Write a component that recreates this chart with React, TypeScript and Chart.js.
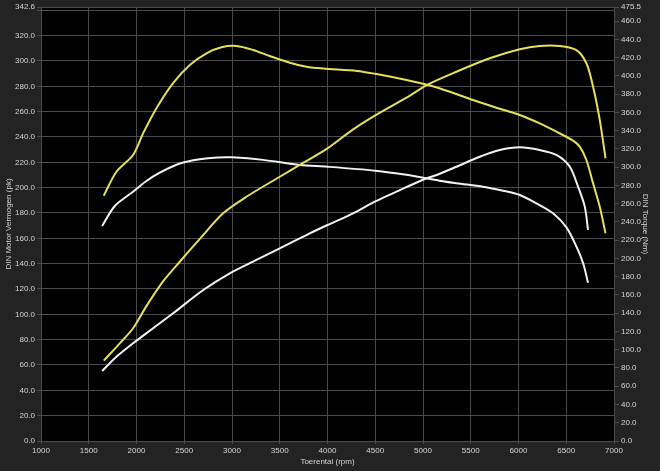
import React, { useEffect, useRef } from "react";
import { Chart, registerables } from "chart.js";

Chart.register(...registerables);

// Yellow (tuned) torque curve, Nm (right axis)
const rpmTorqueTuned = [1657, 1790, 1964, 2069, 2209, 2383, 2558, 2733, 2890, 3047, 3221, 3396, 3605, 3780, 3954, 4310, 4513, 4827, 5053, 5280, 5524, 5769, 6013, 6222, 6397, 6571, 6641, 6711, 6781, 6851, 6911];
const torqueTuned = [268.8, 295, 313.4, 337, 364.5, 392, 412, 424.8, 431.4, 432.8, 428.4, 421.8, 414.5, 410, 408, 405.5, 402, 395.5, 390, 382.7, 373.6, 365.2, 357.2, 348, 338.9, 329, 322.5, 307.9, 282.3, 256.7, 227.6];

// Yellow (tuned) power curve, pk (left axis)
const rpmPowerTuned = [1657, 1825, 1964, 2104, 2278, 2453, 2663, 2907, 3151, 3500, 3709, 4000, 4250, 4478, 4827, 5053, 5350, 5699, 6013, 6222, 6432, 6606, 6711, 6781, 6851, 6911];
const powerTuned = [63.4, 77.1, 89, 106.5, 126, 141.5, 159.5, 179.7, 192.8, 208.6, 217.9, 231, 245, 256, 271, 281.5, 291.5, 302.1, 309.2, 311.8, 311.8, 308.6, 298.2, 279.7, 253.4, 223.2];

// White (stock) torque curve, Nm (right axis)
const rpmTorqueStock = [1640, 1773, 1964, 2104, 2244, 2453, 2663, 2850, 3000, 3326, 3709, 4000, 4500, 4827, 5000, 5176, 5350, 5629, 5839, 6013, 6188, 6362, 6502, 6607, 6677, 6728];
const torqueStock = [235.6, 257.5, 273.1, 284.9, 294, 304, 308.6, 310.6, 310.8, 308, 302.4, 300.5, 296.2, 291.8, 288.5, 285.2, 282.4, 278.6, 274.2, 269.5, 260.4, 249.5, 234, 212.9, 194.7, 173.4];

// White (stock) power curve, pk (left axis)
const rpmPowerStock = [1640, 1790, 1964, 2174, 2383, 2699, 2977, 3256, 3500, 3779, 4000, 4268, 4495, 4722, 4994, 5176, 5350, 5594, 5804, 6013, 6222, 6397, 6537, 6624, 6694, 6728];
const powerStock = [55.3, 66.5, 77.1, 89, 100.8, 119.2, 132.4, 142.9, 152.1, 162.6, 170.5, 179.7, 188.9, 196.8, 206, 211, 216.5, 224.4, 229.7, 231.8, 229.7, 225.8, 216.5, 200.7, 185, 166.6];

const powerTicks = [0, 20, 40, 60, 80, 100, 120, 140, 160, 180, 200, 220, 240, 260, 280, 300, 320, 340, 342.6];
const torqueTicks = [0, 20, 40, 60, 80, 100, 120, 140, 160, 180, 200, 220, 240, 260, 280, 300, 320, 340, 360, 380, 400, 420, 440, 460, 475.5];
const powerMax = 342.6;
const torqueMax = 475.5;
const rpmMin = 1000;
const rpmMax = 7000;

const xTitle = "Toerental (rpm)";
const yTitle = "DIN Motor Vermogen (pk)";
const y1Title = "DIN Torque (Nm)";

const YELLOW = "#e6e05a";
const WHITE = "#f2f2f2";
const GRID = "#4c4c4c";
const TEXT = "#d6d6d6";
const FONT = { family: "'Liberation Sans', Arial, sans-serif", size: 8 };

const toPoints = (xs: number[], ys: number[]) => xs.map((x, i) => ({ x, y: ys[i] }));

const bgPlugin = {
  id: "bgPlugin",
  beforeDraw(chart: any) {
    const { ctx, chartArea, width, height } = chart;
    ctx.save();
    ctx.fillStyle = "#232323";
    ctx.fillRect(0, 0, width, height);
    ctx.fillStyle = "#000000";
    ctx.fillRect(chartArea.left, chartArea.top, chartArea.right - chartArea.left, chartArea.bottom - chartArea.top);
    ctx.restore();
  },
};

export default function App() {
  const ref = useRef<HTMLCanvasElement | null>(null);

  useEffect(() => {
    if (!ref.current) return;
    const lineDs = (label: string, pts: any[], color: string, axis: string) => ({
      label,
      data: pts,
      borderColor: color,
      backgroundColor: color,
      borderWidth: 2,
      pointRadius: 0,
      tension: 0.3,
      fill: false,
      yAxisID: axis,
    });
    const chart = new Chart(ref.current, {
      type: "line",
      data: {
        datasets: [
          lineDs("Torque tuned", toPoints(rpmTorqueTuned, torqueTuned), YELLOW, "y1"),
          lineDs("Power tuned", toPoints(rpmPowerTuned, powerTuned), YELLOW, "y"),
          lineDs("Torque stock", toPoints(rpmTorqueStock, torqueStock), WHITE, "y1"),
          lineDs("Power stock", toPoints(rpmPowerStock, powerStock), WHITE, "y"),
        ],
      },
      options: {
        animation: false,
        responsive: true,
        maintainAspectRatio: false,
        layout: { padding: { top: 7, left: 0, right: 0, bottom: 0 } },
        plugins: { legend: { display: false }, tooltip: { enabled: false } },
        scales: {
          x: {
            type: "linear",
            min: rpmMin,
            max: rpmMax,
            ticks: { stepSize: 500, color: TEXT, font: FONT, padding: 2, maxRotation: 0, autoSkip: false, callback: (v: any) => String(v) },
            grid: { color: GRID, tickLength: 3, tickColor: GRID },
            border: { display: false },
            title: { display: true, text: xTitle, color: TEXT, font: FONT, padding: { top: 0, bottom: 4 } },
            afterFit: (s: any) => { s.height = 30; },
          },
          y: {
            type: "linear",
            position: "left",
            min: 0,
            max: powerMax,
            afterBuildTicks: (s: any) => { s.ticks = powerTicks.map((value) => ({ value })); },
            ticks: {
              color: TEXT, font: FONT, padding: 2, autoSkip: false,
              callback: (v: any) => (v === 340 ? "" : Number(v).toFixed(1)),
            },
            grid: { color: GRID, tickLength: 4, tickColor: GRID },
            border: { display: false },
            title: { display: true, text: yTitle, color: TEXT, font: FONT, padding: { top: 4, bottom: 0 } },
            afterFit: (s: any) => { s.width = 41; },
          },
          y1: {
            type: "linear",
            position: "right",
            min: 0,
            max: torqueMax,
            afterBuildTicks: (s: any) => { s.ticks = torqueTicks.map((value) => ({ value })); },
            ticks: { color: TEXT, font: FONT, padding: 2, autoSkip: false, callback: (v: any) => Number(v).toFixed(1) },
            grid: { color: GRID, tickLength: 5, tickColor: GRID, drawOnChartArea: false },
            border: { display: false },
            title: { display: true, text: y1Title, color: TEXT, font: FONT, padding: { top: 10, bottom: 0 } },
            afterFit: (s: any) => { s.width = 46; },
          },
        },
      },
      plugins: [bgPlugin],
    } as any);
    return () => chart.destroy();
  }, []);

  return (
    <div style={{ position: "absolute", left: 0, top: 0, width: 660, height: 471, background: "#232323" }}>
      <canvas ref={ref} />
    </div>
  );
}
